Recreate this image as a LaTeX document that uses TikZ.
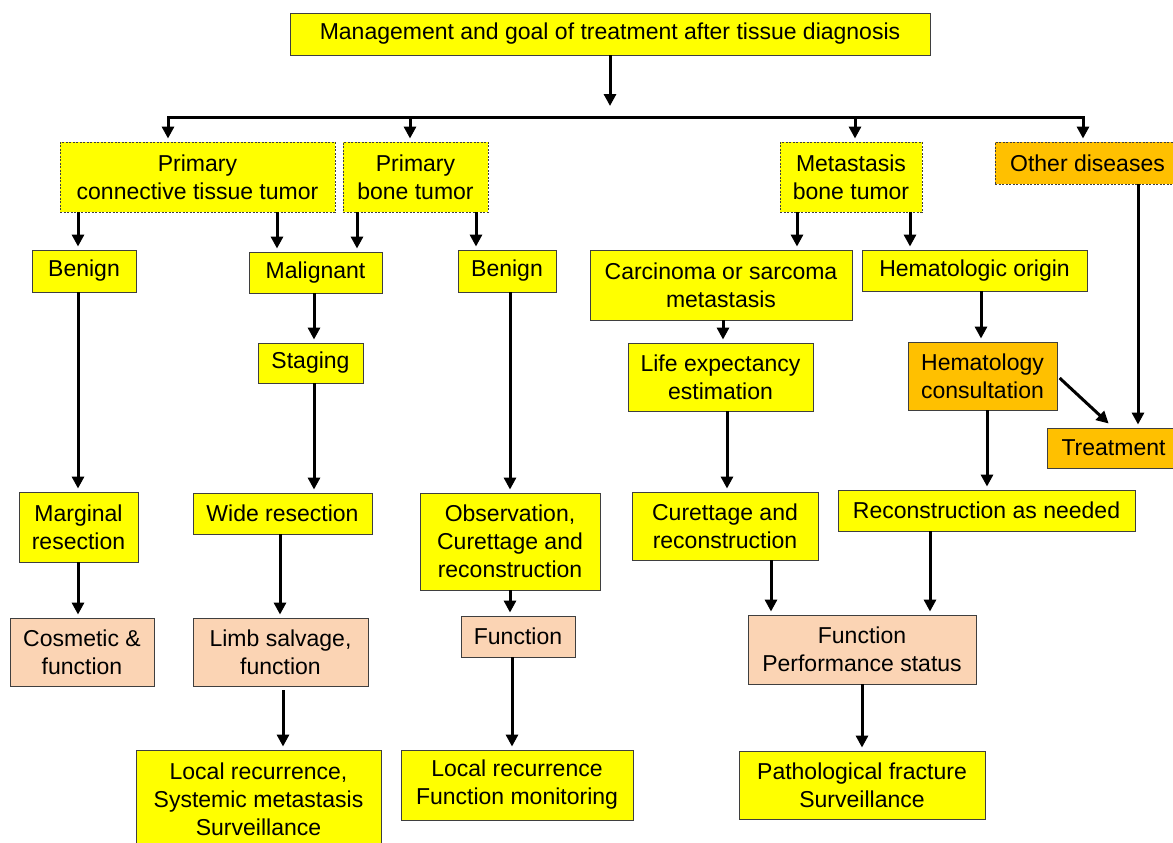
\documentclass[tikz,border=0pt]{standalone}
\usepackage{fontspec}
\setmainfont{Liberation Sans}
\usetikzlibrary{arrows.meta}
\definecolor{yel}{HTML}{FFFF00}
\definecolor{org}{HTML}{FFC000}
\definecolor{pch}{HTML}{FBD4B4}
\definecolor{bord}{HTML}{3F3F3F}
\begin{document}
\begin{tikzpicture}[x=1pt,y=-1pt,
  box/.style={draw=bord, line width=0.9pt, fill=yel, align=center, inner sep=0pt, text=black,
    font=\fontsize{23}{28}\selectfont},
  dbox/.style={box, dash pattern=on 2pt off 1.5pt},
  obox/.style={box, fill=org},
  pbox/.style={box, fill=pch},
  arr/.style={line width=3pt, -{Triangle[length=12pt,width=12pt]}, shorten >=3pt}]
\clip (0,0) rectangle (1173,843);
\fill[white] (0,0) rectangle (1173,843);
% nodes
\node[box, minimum width=640pt, minimum height=42pt] (top) at (610,34) {Management and goal of treatment after tissue diagnosis};
\node[dbox, minimum width=275pt, minimum height=70pt] (pct) at (197.5,177) {Primary\\connective tissue tumor};
\node[dbox, minimum width=145pt, minimum height=70pt] (pbt) at (415.5,177) {Primary\\bone tumor};
\node[dbox, minimum width=142pt, minimum height=70pt] (mbt) at (851,177) {Metastasis\\bone tumor};
\node[dbox, fill=org, minimum width=185pt, minimum height=42pt] (od) at (1087.5,163) {Other diseases};
\node[box, minimum width=104pt, minimum height=42pt] (benA) at (84,271) {Benign};
\node[box, minimum width=133pt, minimum height=41pt] (mal) at (315.5,272.5) {Malignant};
\node[box, minimum width=98pt, minimum height=42pt] (benB) at (507,271) {Benign};
\node[box, minimum width=262pt, minimum height=70pt] (carc) at (721,285) {Carcinoma or sarcoma\\metastasis};
\node[box, minimum width=225pt, minimum height=41pt] (hem) at (974.5,270.5) {Hematologic origin};
\node[box, minimum width=105pt, minimum height=40pt] (stag) at (310.5,363) {Staging};
\node[box, minimum width=185pt, minimum height=68pt] (life) at (720.5,377) {Life expectancy\\estimation};
\node[obox, minimum width=149pt, minimum height=68pt] (hc) at (982.5,376) {Hematology\\consultation};
\node[obox, minimum width=133pt, minimum height=40pt] (tr) at (1113.5,448) {Treatment};
\node[box, minimum width=119pt, minimum height=70pt] (marg) at (78.5,527) {Marginal\\resection};
\node[box, minimum width=179pt, minimum height=41pt] (wide) at (282.5,513.5) {Wide resection};
\node[box, minimum width=180pt, minimum height=97pt] (obs) at (510,541.5) {Observation,\\Curettage and\\reconstruction};
\node[box, minimum width=186pt, minimum height=68pt] (cur) at (725,526) {Curettage and\\reconstruction};
\node[box, minimum width=297pt, minimum height=41pt] (rec) at (986.5,510.5) {Reconstruction as needed};
\node[pbox, minimum width=144pt, minimum height=68pt] (cos) at (82,652) {Cosmetic \&\\function};
\node[pbox, minimum width=175pt, minimum height=68pt] (limb) at (280.5,652) {Limb salvage,\\function};
\node[pbox, minimum width=114pt, minimum height=41pt] (func) at (518,636.5) {Function};
\node[pbox, minimum width=228pt, minimum height=69pt] (fps) at (862,649.5) {Function\\Performance status};
\node[box, minimum width=245pt, minimum height=98pt] (lr1) at (258.5,799) {Local recurrence,\\Systemic metastasis\\Surveillance};
\node[box, minimum width=232pt, minimum height=70pt] (lr2) at (517,785) {Local recurrence\\Function monitoring};
\node[box, minimum width=246pt, minimum height=68pt] (path) at (862,785) {Pathological fracture\\Surveillance};
% coordinates
\coordinate (topend) at (610,106);
\coordinate (b1) at (168,117);
\coordinate (b2) at (410,117);
\coordinate (b3) at (855,117);
\coordinate (b4) at (1083,117);
\foreach \n/\x in {x78/78,x277/277,x357/357,x476/476,x797/797,x910/910,x1138/1138,
  x314/314,x510/510,x723/723,x727/727,x981/981,x987/987,x280/280,x283/283,x512/512,
  x771/771,x930/930,x862/862,x1113/1113}
  \coordinate (\n) at (\x,0);
% connectors
\draw[arr, shorten >=0pt] (top.south) -- (topend);
\draw[arr] (b2) -- (b1) -- (b1 |- pct.north);
\draw[arr] (b2) -- (b4) -- (b4 |- od.north);
\draw[arr] (b2) -- (b2 |- pbt.north);
\draw[arr] (b3) -- (b3 |- mbt.north);
\draw[arr] (x78 |- pct.south) -- (x78 |- benA.north);
\draw[arr] (x277 |- pct.south) -- (x277 |- mal.north);
\draw[arr] (x357 |- pbt.south) -- (x357 |- mal.north);
\draw[arr] (x476 |- pbt.south) -- (x476 |- benB.north);
\draw[arr] (x797 |- mbt.south) -- (x797 |- carc.north);
\draw[arr] (x910 |- mbt.south) -- (x910 |- hem.north);
\draw[arr] (x1138 |- od.south) -- (x1138 |- tr.north);
\draw[arr] (x78 |- benA.south) -- (x78 |- marg.north);
\draw[arr] (x314 |- mal.south) -- (x314 |- stag.north);
\draw[arr] (x314 |- stag.south) -- (x314 |- wide.north);
\draw[arr] (x510 |- benB.south) -- (x510 |- obs.north);
\draw[arr] (x723 |- carc.south) -- (x723 |- life.north);
\draw[arr] (x727 |- life.south) -- (x727 |- cur.north);
\draw[arr] (x981 |- hem.south) -- (x981 |- hc.north);
\draw[arr, shorten <=3pt, shorten >=6pt] (hc.east) -- (x1113 |- tr.north);
\draw[arr] (x987 |- hc.south) -- (x987 |- rec.north);
\draw[arr] (x78 |- marg.south) -- (x78 |- cos.north);
\draw[arr] (x280 |- wide.south) -- (x280 |- limb.north);
\draw[arr, shorten <=4pt] (x283 |- limb.south) -- (x283 |- lr1.north);
\draw[arr] (x510 |- obs.south) -- (x510 |- func.north);
\draw[arr] (x512 |- func.south) -- (x512 |- lr2.north);
\draw[arr] (x771 |- cur.south) -- (x771 |- fps.north);
\draw[arr] (x930 |- rec.south) -- (x930 |- fps.north);
\draw[arr] (x862 |- fps.south) -- (x862 |- path.north);
\end{tikzpicture}
\end{document}
